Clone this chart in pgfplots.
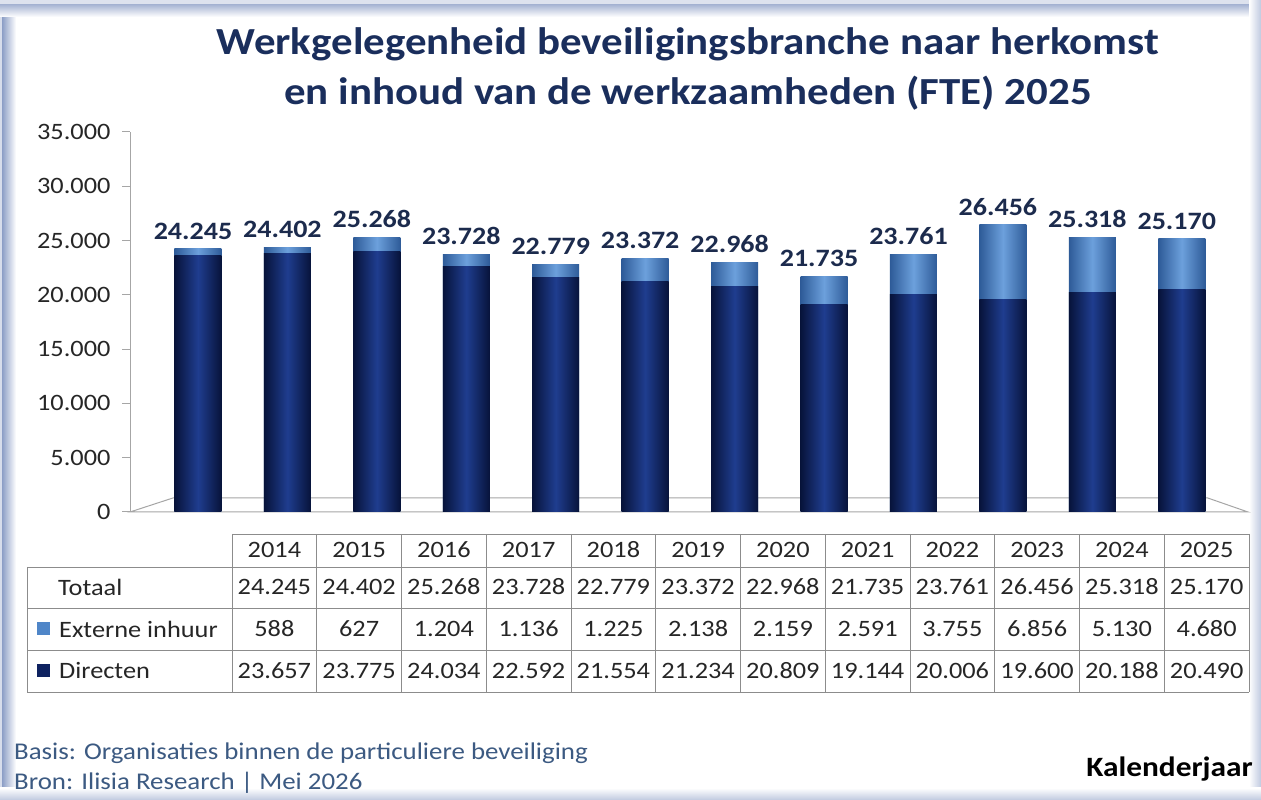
\documentclass[border=0pt]{standalone}
\usepackage{pgfplots}
\pgfplotsset{compat=1.18}
\usepackage{pgfplotstable}
\usepackage{fontspec}
\setmainfont{Carlito}[FakeStretch=1.12]
\definecolor{titleblue}{HTML}{1A2E5C}
\definecolor{lblblue}{HTML}{1C2B4D}
\definecolor{dirEdge}{HTML}{07133A}
\definecolor{dirMid}{HTML}{1F3D8F}
\definecolor{extEdge}{HTML}{2E5B98}
\definecolor{extMid}{HTML}{6CA0DC}
\definecolor{dirSq}{HTML}{0E2260}
\definecolor{extSq}{HTML}{4F86C8}
\definecolor{foot}{HTML}{3C5A82}
\definecolor{tabtxt}{HTML}{262626}
\definecolor{frameC}{HTML}{8C9EC6}
\definecolor{tabline}{HTML}{8C8C8C}

\pgfplotstableread{
x dir ext tot lab
0 23657 588 24245 24.245
1 23775 627 24402 24.402
2 24034 1204 25268 25.268
3 22592 1136 23728 23.728
4 21554 1225 22779 22.779
5 21234 2138 23372 23.372
6 20809 2159 22968 22.968
7 19144 2591 21735 21.735
8 20006 3755 23761 23.761
9 19600 6856 26456 26.456
10 20188 5130 25318 25.318
11 20490 4680 25170 25.170
}\data

\begin{document}
\begin{tikzpicture}[x=1pt,y=1pt]
\path[use as bounding box] (0,0) rectangle (1261,800);
\fill[white] (0,0) rectangle (1261,800);
% frame
\shade[left color=frameC, right color=white] (2,0) rectangle (16,800);
\fill[frameC!35] (0,0) rectangle (2,800);
\shade[top color=frameC!80, bottom color=white] (0,796) rectangle (1261,783);
\fill[frameC!30] (0,796) rectangle (1261,800);
\shade[left color=white, right color=frameC!55] (1249,0) rectangle (1261,800);
\shade[top color=white, bottom color=frameC!55] (0,0) rectangle (1261,12);

% title
\node[font=\bfseries\fontsize{38.3}{44}\selectfont, text=titleblue, anchor=base] at (688,745) {Werkgelegenheid beveiligingsbranche naar herkomst};
\node[font=\bfseries\fontsize{38.3}{44}\selectfont, text=titleblue, anchor=base] at (688,695) {en inhoud van de werkzaamheden (FTE) 2025};

\begin{axis}[
  at={(130pt,288pt)}, anchor=south west, scale only axis,
  width=1118pt, height=380pt,
  xmin=-0.76, xmax=11.74, ymin=0, ymax=35000,
  axis x line=none, axis y line=left,
  y axis line style={-, draw=gray!70, line width=1pt},
  ytick={0,5000,...,35000},
  scaled y ticks=false,
  ytick style={draw=gray!70, line width=1pt},
  tick align=outside, major tick length=8pt,
  yticklabel style={font=\fontsize{23.5}{24}\selectfont, text=tabtxt, xshift=-8pt,
    /pgf/number format/.cd, fixed, 1000 sep={.}, assume math mode=true},
  clip=false,
]
\draw[gray!70, line width=1pt] (axis cs:-0.76,0) -- (axis cs:11.74,0) -- (axis cs:11.29,1290) -- (axis cs:-0.28,1290) -- cycle;
\pgfplotsinvokeforeach{0,...,11}{
  \addplot[ybar, bar width=47pt, bar shift=0pt, draw=none,
    left color=extEdge, right color=extEdge, middle color=extMid,
    restrict x to domain=#1:#1] table[x=x,y=tot]{\data};
  \addplot[ybar, bar width=47pt, bar shift=0pt, draw=none,
    left color=dirEdge, right color=dirEdge, middle color=dirMid,
    restrict x to domain=#1:#1] table[x=x,y=dir]{\data};
}
\addplot[draw=none, mark=none, nodes near coords, point meta=explicit symbolic,
  every node near coord/.append style={font=\bfseries\fontsize{25}{25}\selectfont, text=lblblue, anchor=south, yshift=6pt, xshift=-5pt}]
  table[x=x,y=tot,meta=lab]{\data};
\end{axis}

% data table
\foreach \i in {0,...,12} \draw[tabline, line width=0.9pt] ({232+\i*84.75},266) -- ({232+\i*84.75},108);
\draw[tabline, line width=0.9pt] (27,233) -- (27,108);
\draw[tabline, line width=0.9pt] (232,266) -- (1249,266);
\foreach \y in {233,192,150,108} \draw[tabline, line width=0.9pt] (27,\y) -- (1249,\y);
\tikzset{tab/.style={font=\fontsize{23.5}{24}\selectfont, text=tabtxt, inner sep=0pt}}
\foreach [count=\i from 0] \v in {2014,2015,2016,2017,2018,2019,2020,2021,2022,2023,2024,2025}
  \node[tab] at ({274.4+\i*84.75},250) {\v};
\foreach [count=\i from 0] \v in {24.245,24.402,25.268,23.728,22.779,23.372,22.968,21.735,23.761,26.456,25.318,25.170}
  \node[tab] at ({274.4+\i*84.75},213) {\v};
\foreach [count=\i from 0] \v in {588,627,1.204,1.136,1.225,2.138,2.159,2.591,3.755,6.856,5.130,4.680}
  \node[tab] at ({274.4+\i*84.75},171) {\v};
\foreach [count=\i from 0] \v in {23.657,23.775,24.034,22.592,21.554,21.234,20.809,19.144,20.006,19.600,20.188,20.490}
  \node[tab] at ({274.4+\i*84.75},129) {\v};
\node[tab, anchor=west] at (58,213) {Totaal};
\fill[extSq] (37,165) rectangle (50,178);
\node[tab, anchor=west] at (59,171) {Externe inhuur};
\fill[dirSq] (37,123) rectangle (50,136);
\node[tab, anchor=west] at (59,129) {Directen};

% footer
\node[font=\fontsize{24}{26}\selectfont, text=foot, anchor=base west, inner sep=0pt] at (14,40) {Basis: Organisaties binnen de particuliere beveiliging};
\node[font=\fontsize{24}{26}\selectfont, text=foot, anchor=base west, inner sep=0pt] at (14,10) {Bron: Ilisia Research | Mei 2026};
\node[font=\bfseries\fontsize{28}{30}\selectfont, text=black, anchor=base east, inner sep=0pt] at (1253,23) {Kalenderjaar};
\end{tikzpicture}
\end{document}
